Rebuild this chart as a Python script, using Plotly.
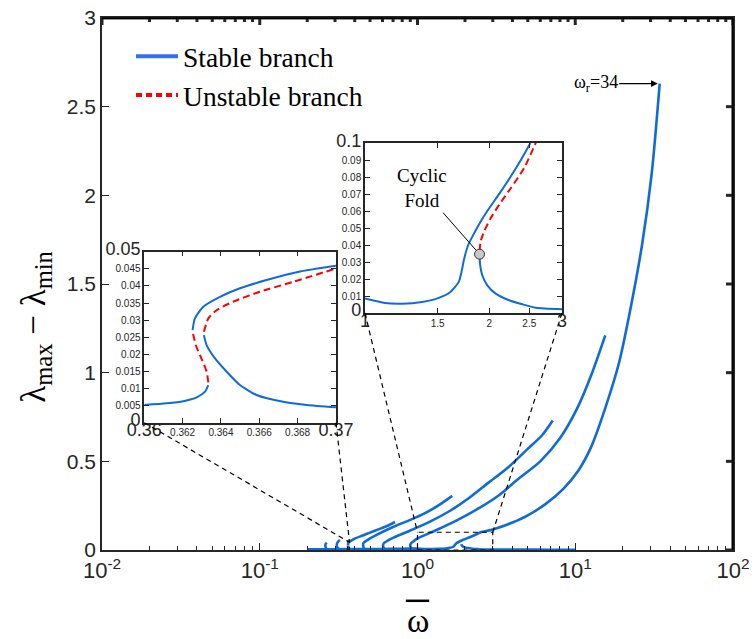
import math
import plotly.graph_objects as go

# ---------------- data ----------------
# lower stable baseline of the main figure
base_w = [0.2, 0.3, 0.45, 0.6, 0.8, 1.0]
base_y = [0.004, 0.0045, 0.005, 0.006, 0.007, 0.0085]

# inset 1 (branch with fold near 0.3625)
ins1_sl_w = [0.36, 0.36117, 0.36203, 0.36273, 0.36317, 0.36334]
ins1_sl_y = [0.0052, 0.0057, 0.0063, 0.0074, 0.0091, 0.011]
ins1_ul_w = [0.36334, 0.36325, 0.36300, 0.36270, 0.36252]
ins1_ul_y = [0.0118, 0.015, 0.0185, 0.0225, 0.0265]
ins1_su_w = [0.36252, 0.36264, 0.36308, 0.36395, 0.36499, 0.36638, 0.36812, 0.37]
ins1_su_y = [0.0271, 0.0305, 0.0339, 0.0368, 0.0393, 0.0417, 0.0442, 0.0459]
ins1_sr_w = [0.36311, 0.36325, 0.36369, 0.3643, 0.36499, 0.36586, 0.36725, 0.36847, 0.37]
ins1_sr_y = [0.0256, 0.0227, 0.0188, 0.0149, 0.011, 0.0081, 0.0061, 0.0052, 0.0045]
ins1_ur_w = [0.36311, 0.36334, 0.36377, 0.36464, 0.36603, 0.36777, 0.37]
ins1_ur_y = [0.0266, 0.0305, 0.0329, 0.0354, 0.0383, 0.0412, 0.0451]

# continuation of that branch in the main figure
c5_w = [0.40, 0.45, 0.50, 0.56, 0.64, 0.72]
c5_y = [0.064, 0.082, 0.098, 0.115, 0.135, 0.158]

# inset 2 (branch with cyclic fold near 1.9)
ins2_su_w = [1.0, 1.118, 1.228, 1.374, 1.509, 1.610, 1.687, 1.713, 1.739, 1.778, 1.846, 1.905, 1.978, 2.120, 2.25, 2.385, 2.515]
ins2_su_y = [0.0085, 0.0059, 0.0055, 0.0065, 0.0089, 0.0124, 0.0183, 0.0242, 0.032, 0.040, 0.0478, 0.0537, 0.060, 0.0705, 0.080, 0.090, 0.100]
ins2_sr_w = [1.894, 1.901, 1.923, 1.978, 2.073, 2.234, 2.405, 2.593, 3.0]
ins2_sr_y = [0.033, 0.0281, 0.0222, 0.0163, 0.0114, 0.0075, 0.0051, 0.0031, 0.0022]
ins2_ur_w = [1.894, 1.905, 1.941, 2.015, 2.112, 2.254, 2.428, 2.59, 2.66]
ins2_ur_y = [0.0364, 0.0419, 0.0478, 0.0557, 0.0636, 0.0734, 0.0852, 0.100, 0.107]
fold_w = [1.894]
fold_y = [0.0346]

# continuation of the omega_r = 34 branch in the main figure
c1_up_w = [3.0, 4.0, 5.0, 6.5, 8.4, 10.5, 12.6, 15.5, 19.0, 22.5, 26.5, 30.5, 34.3]
c1_up_y = [0.115, 0.155, 0.195, 0.26, 0.345, 0.45, 0.58, 0.80, 1.06, 1.37, 1.72, 2.12, 2.63]
c1_low_w = [4.5, 7.0, 10.0]
c1_low_y = [0.002, 0.0018, 0.0015]

# other branches of the main figure
c2_w = [0.925, 0.905, 0.9, 0.91, 0.93, 1.0, 1.3, 1.8, 2.5, 3.3, 4.27, 6.0, 8.0, 10.3, 12.8, 15.5]
c2_y = [0.004, 0.015, 0.028, 0.038, 0.045, 0.065, 0.11, 0.17, 0.24, 0.31, 0.395, 0.50, 0.63, 0.80, 1.0, 1.21]
c3_w = [0.62, 0.608, 0.605, 0.612, 0.64, 0.7, 0.9, 1.2, 1.6, 2.1, 2.82, 3.8, 5.0, 6.2, 7.2]
c3_y = [0.004, 0.015, 0.028, 0.038, 0.05, 0.068, 0.11, 0.16, 0.22, 0.29, 0.38, 0.47, 0.57, 0.65, 0.73]
c4_w = [0.462, 0.455, 0.452, 0.455, 0.47, 0.55, 0.7, 0.9, 1.1, 1.35, 1.66]
c4_y = [0.004, 0.015, 0.028, 0.04, 0.05, 0.085, 0.13, 0.17, 0.205, 0.25, 0.305]
b1_w = [0.266, 0.262, 0.2605, 0.262, 0.266]
b1_y = [0.004, 0.015, 0.025, 0.035, 0.042]
b2_w = [0.318, 0.31, 0.308, 0.31, 0.316, 0.322]
b2_y = [0.004, 0.015, 0.028, 0.04, 0.05, 0.056]

# tick labels
main_xticks = [0.01, 0.1, 1, 10, 100]
main_xticktext = ['10<sup>-2</sup>', '10<sup>-1</sup>', '10<sup>0</sup>', '10<sup>1</sup>', '10<sup>2</sup>']
main_yticks = [0, 0.5, 1, 1.5, 2, 2.5, 3]
main_yticktext = ['0', '0.5', '1', '1.5', '2', '2.5', '3']
ins1_xticks = [0.36, 0.362, 0.364, 0.366, 0.368, 0.37]
ins1_xticktext = ['0.36', '0.362', '0.364', '0.366', '0.368', '0.37']
ins1_yticks = [0, 0.005, 0.01, 0.015, 0.02, 0.025, 0.03, 0.035, 0.04, 0.045, 0.05]
ins1_yticktext = ['0', '0.005', '0.01', '0.015', '0.02', '0.025', '0.03', '0.035', '0.04', '0.045', '0.05']
ins2_xticks = [1, 1.5, 2, 2.5, 3]
ins2_xticktext = ['1', '1.5', '2', '2.5', '3']
ins2_yticks = [0, 0.01, 0.02, 0.03, 0.04, 0.05, 0.06, 0.07, 0.08, 0.09, 0.1]
ins2_yticktext = ['0', '0.01', '0.02', '0.03', '0.04', '0.05', '0.06', '0.07', '0.08', '0.09', '0.1']

# ---------------- style ----------------
BLUE = '#0f6bd6'
RED = '#ff0000'
AX = '#262626'
SANS = 'Liberation Sans'
SERIF = 'Liberation Serif'
MAIN_W = 2.6
INS_W = 2.0

X_RANGE = [-2, 2]     # log10 range of the main x axis
Y_RANGE = [0, 3]
PLOT_W_PX = 631.0
PLOT_H_PX = 532.0


def big(labels):
    out = list(labels)
    out[0] = '<span style="font-size:18px">%s</span>' % out[0]
    out[-1] = '<span style="font-size:18px">%s</span>' % out[-1]
    return out


fig = go.Figure()


def add(x, y, xa='x', ya='y', color=BLUE, width=MAIN_W, dash='solid', smooth=0.8):
    fig.add_trace(go.Scatter(x=x, y=y, xaxis=xa, yaxis=ya, mode='lines',
                             line=dict(color=color, width=width, dash=dash, shape='spline', smoothing=smooth),
                             showlegend=False, hoverinfo='skip'))


# main figure
add(base_w + ins2_su_w + c1_up_w, base_y + ins2_su_y + c1_up_y)
add(ins2_sr_w + c1_low_w, ins2_sr_y + c1_low_y)
add(c2_w, c2_y)
add(c3_w, c3_y)
add(c4_w, c4_y)
add(b1_w, b1_y)
add(b2_w, b2_y)
add(ins1_sl_w, ins1_sl_y)
add(ins1_su_w + c5_w, ins1_su_y + c5_y)
add(ins1_sr_w, ins1_sr_y)

# inset 1
add(ins1_sl_w, ins1_sl_y, 'x2', 'y2', width=INS_W, smooth=0.6)
add(ins1_ul_w, ins1_ul_y, 'x2', 'y2', color=RED, width=INS_W, dash='7px,4px', smooth=0.6)
add(ins1_su_w, ins1_su_y, 'x2', 'y2', width=INS_W, smooth=0.6)
add(ins1_sr_w, ins1_sr_y, 'x2', 'y2', width=INS_W, smooth=0.6)
add(ins1_ur_w, ins1_ur_y, 'x2', 'y2', color=RED, width=INS_W, dash='7px,4px', smooth=0.6)

# inset 2
add(ins2_su_w, ins2_su_y, 'x3', 'y3', width=INS_W, smooth=0.6)
add(ins2_sr_w, ins2_sr_y, 'x3', 'y3', width=INS_W, smooth=0.6)
add(ins2_ur_w, ins2_ur_y, 'x3', 'y3', color=RED, width=INS_W, dash='7px,4px', smooth=0.6)
fig.add_trace(go.Scatter(x=fold_w, y=fold_y, xaxis='x3', yaxis='y3', mode='markers',
                         marker=dict(size=10, color='#c8c8c8', line=dict(color='#333333', width=1)),
                         showlegend=False, hoverinfo='skip'))

# top and right borders of the main box, with their inward ticks (built from the axis ranges)
x_lo, x_hi = 10 ** X_RANGE[0], 10 ** X_RANGE[1]
y_lo, y_hi = Y_RANGE
dy_major = 7 / PLOT_H_PX * (y_hi - y_lo)
dy_minor = 4 / PLOT_H_PX * (y_hi - y_lo)
x_tick_in = 10 ** (X_RANGE[1] - 7 / PLOT_W_PX * (X_RANGE[1] - X_RANGE[0]))
fx, fy = [x_lo, x_hi, x_hi], [y_hi, y_hi, y_lo]
for v in main_xticks:
    fx += [None, v, v]
    fy += [None, y_hi, y_hi - dy_major]
for e in range(X_RANGE[0], X_RANGE[1]):
    for m in range(2, 10):
        fx += [None, m * 10 ** e, m * 10 ** e]
        fy += [None, y_hi, y_hi - dy_minor]
for v in main_yticks:
    fx += [None, x_hi, x_tick_in]
    fy += [None, v, v]
fig.add_trace(go.Scatter(x=fx, y=fy, mode='lines', line=dict(color=AX, width=3),
                         showlegend=False, hoverinfo='skip', connectgaps=False))

# legend entries
fig.add_trace(go.Scatter(x=[None], y=[None], mode='lines', name='Stable branch',
                         line=dict(color='#2f6ff0', width=4)))
fig.add_trace(go.Scatter(x=[None], y=[None], mode='lines', name='Unstable branch',
                         line=dict(color=RED, width=4, dash='6px,4px')))

# ---------------- axes ----------------
minor_main = [m * 10 ** e for e in range(X_RANGE[0], X_RANGE[1]) for m in range(2, 10)]

common_line = dict(showline=True, linecolor=AX, linewidth=1.5, mirror='allticks', ticks='inside',
                   tickcolor=AX, showgrid=False, zeroline=False, automargin=False,
                   ticklabeloverflow='allow')

D1X = [0.067, 0.3708]
D1Y = [0.2393, 0.5607]
D2X = [0.4168, 0.7290]
D2Y = [0.4455, 0.7650]

fig.update_layout(
    width=756, height=639,
    margin=dict(l=102, r=23, t=18, b=89),
    paper_bgcolor='white', plot_bgcolor='rgba(0,0,0,0)',
    showlegend=True,
    legend=dict(x=0.046, y=0.974, xanchor='left', yanchor='top', itemwidth=42,
                bgcolor='rgba(0,0,0,0)',
                font=dict(family=SERIF, size=27.5, color='black')),
    xaxis=dict(type='log', range=X_RANGE, domain=[0, 1], anchor='y',
               tickvals=main_xticks, ticktext=main_xticktext, ticklen=7, tickwidth=1.2,
               tickfont=dict(family=SANS, size=22, color=AX),
               minor=dict(tickvals=minor_main, ticks='inside', ticklen=4, tickcolor=AX, tickwidth=1),
               **common_line),
    yaxis=dict(range=Y_RANGE, domain=[0, 1], anchor='x',
               tickvals=main_yticks, ticktext=main_yticktext, ticklen=7, tickwidth=1.2,
               tickfont=dict(family=SANS, size=21, color=AX),
               **common_line),
    xaxis2=dict(range=[0.36, 0.37], domain=D1X, anchor='y2',
                tickvals=ins1_xticks, ticktext=big(ins1_xticktext), ticklen=5,
                tickfont=dict(family=SANS, size=10, color=AX), **common_line),
    yaxis2=dict(range=[0, 0.05], domain=D1Y, anchor='x2',
                tickvals=ins1_yticks, ticktext=big(ins1_yticktext), ticklen=5,
                tickfont=dict(family=SANS, size=10, color=AX), **common_line),
    xaxis3=dict(type='log', range=[0, math.log10(3)], domain=D2X, anchor='y3',
                tickvals=ins2_xticks, ticktext=big(ins2_xticktext), ticklen=5,
                tickfont=dict(family=SANS, size=10, color=AX), **common_line),
    yaxis3=dict(range=[0, 0.1], domain=D2Y, anchor='x3',
                tickvals=ins2_yticks, ticktext=big(ins2_yticktext), ticklen=5,
                tickfont=dict(family=SANS, size=10, color=AX), **common_line),
)


# ---------------- shapes ----------------
def px_main(w):
    return (math.log10(w) - X_RANGE[0]) / (X_RANGE[1] - X_RANGE[0])


def py_main(y):
    return (y - Y_RANGE[0]) / (Y_RANGE[1] - Y_RANGE[0])


dash_line = dict(color='black', width=1.2, dash='5px,4px')
frame_line = dict(color='black', width=1.6)
shapes = []
for (w0, w1, y1) in [(0.36, 0.37, 0.05), (1.0, 3.0, 0.1)]:
    shapes.append(dict(type='rect', xref='x', yref='y', x0=w0, x1=w1, y0=0, y1=y1, line=dash_line))
shapes.append(dict(type='line', xref='paper', yref='paper', x0=D1X[0], y0=D1Y[0],
                   x1=px_main(0.36), y1=py_main(0.05), line=dash_line))
shapes.append(dict(type='line', xref='paper', yref='paper', x0=D1X[1], y0=D1Y[0],
                   x1=px_main(0.37), y1=py_main(0.05), line=dash_line))
shapes.append(dict(type='line', xref='paper', yref='paper', x0=D2X[0], y0=D2Y[0],
                   x1=px_main(1.0), y1=py_main(0.1), line=dash_line))
shapes.append(dict(type='line', xref='paper', yref='paper', x0=D2X[1], y0=D2Y[0],
                   x1=px_main(3.0), y1=py_main(0.1), line=dash_line))
shapes.append(dict(type='line', xref='paper', yref='paper', x0=0, x1=1, y0=0.9995, y1=0.9995,
                   line=frame_line, layer='above'))
shapes.append(dict(type='line', xref='paper', yref='paper', x0=0.9995, x1=0.9995, y0=0, y1=1,
                   line=frame_line, layer='above'))
# overline of the x-axis title
shapes.append(dict(type='line', xref='paper', yref='paper', x0=0.4815, x1=0.5185, y0=-0.0955, y1=-0.0955,
                   line=dict(color='black', width=2.5)))
fig.update_layout(shapes=shapes)

# ---------------- annotations ----------------
fig.add_annotation(x=-0.106, y=0.42, xref='paper', yref='paper', showarrow=False, textangle=-90,
                   text='λ<sub>max</sub> − λ<sub>min</sub>', xanchor='center', yanchor='middle',
                   font=dict(family=SERIF, size=35, color='black'))
fig.add_annotation(x=0.5, y=-0.132, xref='paper', yref='paper', showarrow=False,
                   text='ω', xanchor='center', yanchor='middle',
                   font=dict(family=SERIF, size=34, color='black'))
fig.add_annotation(x=math.log10(c1_up_w[-1]), y=c1_up_y[-1], xref='x', yref='y',
                   text='ω<sub>r</sub>=34', showarrow=True, arrowhead=2, arrowsize=1.1, arrowwidth=1.2,
                   arrowcolor='black', ax=-64, ay=0, standoff=2,
                   font=dict(family=SERIF, size=18, color='black'))
fig.add_annotation(x=math.log10(fold_w[0]), y=fold_y[0], xref='x3', yref='y3',
                   text='Cyclic<br>Fold', showarrow=True, arrowhead=0, arrowwidth=1,
                   arrowcolor='black', ax=-58, ay=-66, standoff=5,
                   font=dict(family=SERIF, size=19, color='black'))

fig.write_html('out.html', config=dict(displayModeBar=False),
               post_script="document.body.style.margin='0';document.body.style.overflow='hidden';")
